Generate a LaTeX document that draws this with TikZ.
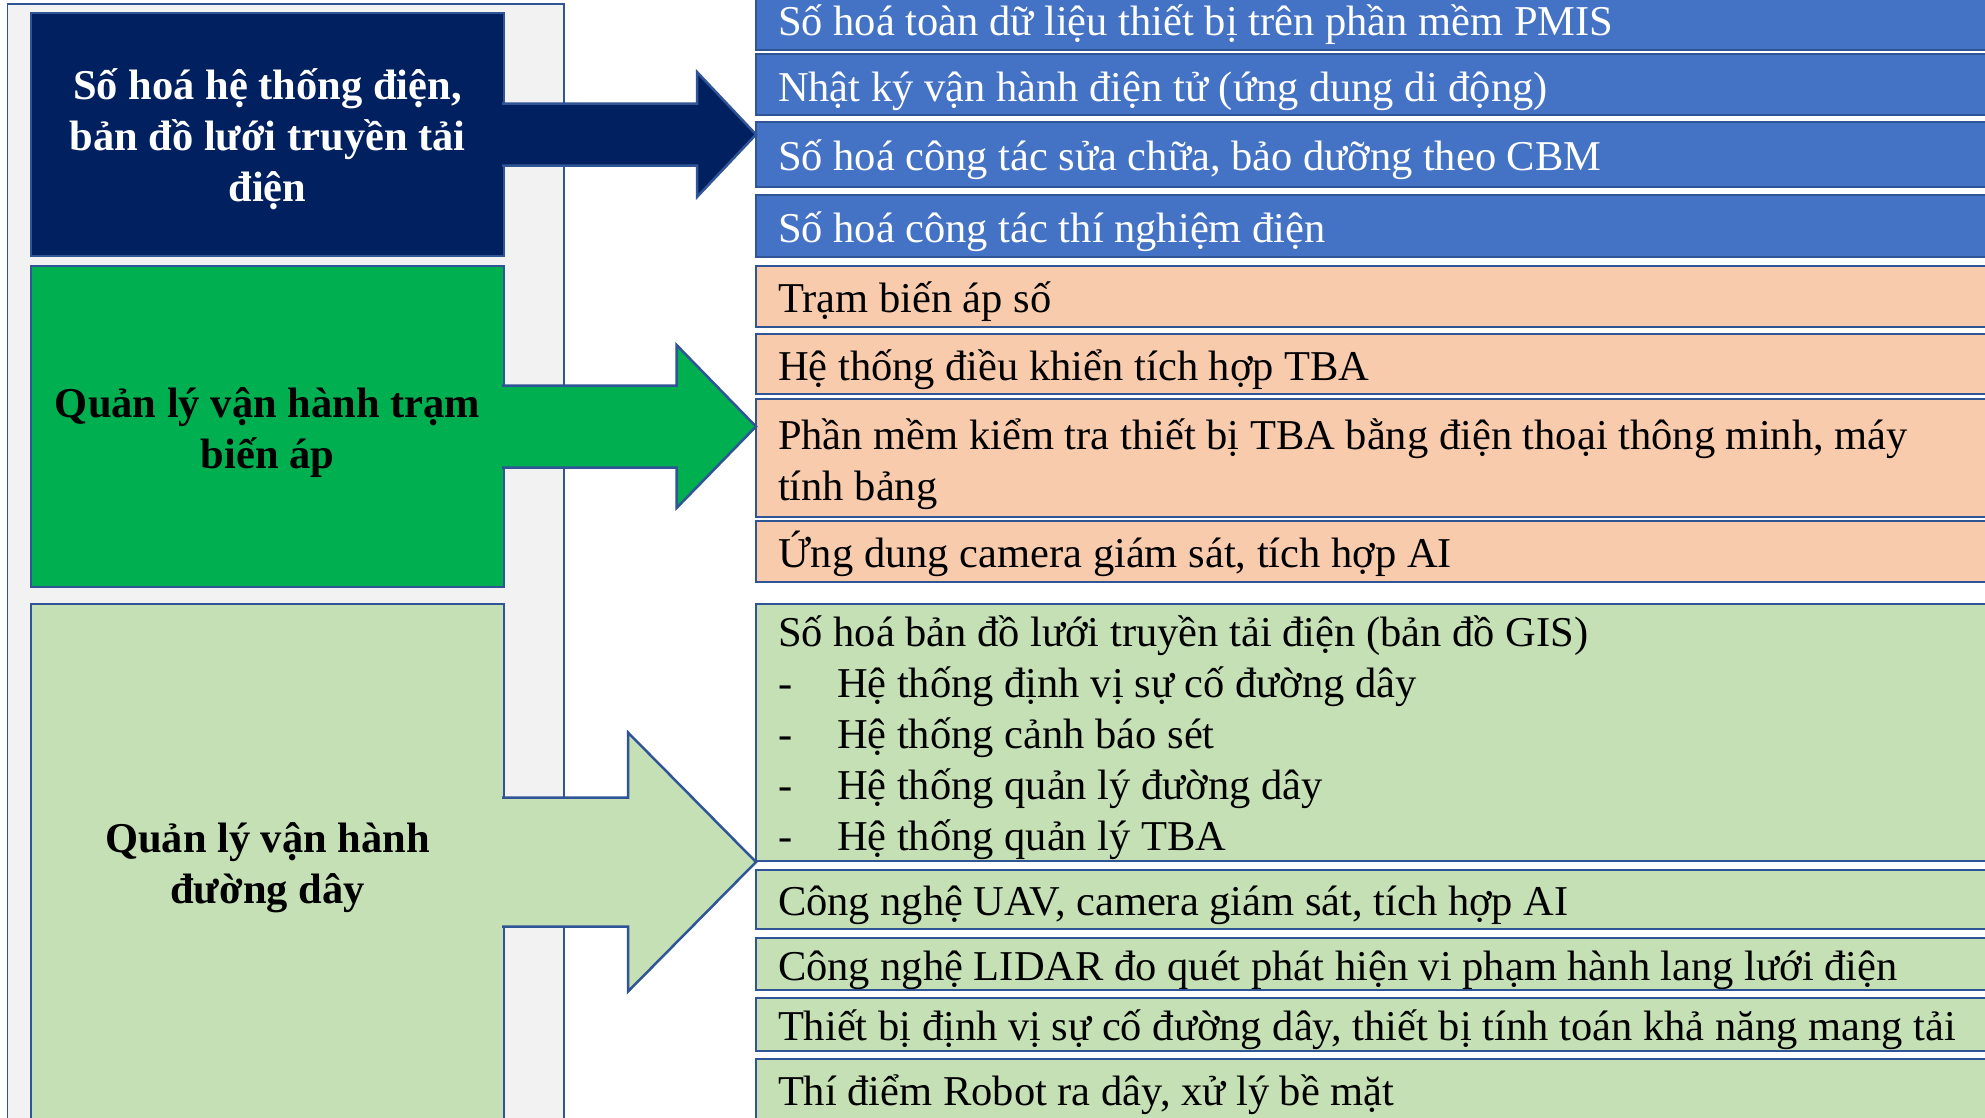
\documentclass[tikz,border=0pt]{standalone}
\usepackage{fontspec}
\setmainfont{Liberation Serif}
\usetikzlibrary{calc}
\definecolor{navy}{HTML}{002060}
\definecolor{dgreen}{HTML}{00B050}
\definecolor{lgreen}{HTML}{C5E0B4}
\definecolor{bluebox}{HTML}{4472C4}
\definecolor{peach}{HTML}{F8CBAD}
\definecolor{bord}{HTML}{2F5597}
\definecolor{panel}{HTML}{F2F2F2}
\begin{document}
\begin{tikzpicture}[x=1pt,y=-1pt,
  bx/.style={draw=bord, line width=2.5pt, inner sep=0pt, outer sep=0pt, anchor=north west, rectangle},
  rbx/.style={bx, minimum width=1260pt},
  lt/.style={font=\fontsize{42.5}{51}\selectfont, inner sep=0pt, outer sep=0pt, anchor=base west, yshift=-2.5pt},
  ltw/.style={lt, text=white},
  ct/.style={font=\fontsize{42.5}{51}\selectfont\bfseries, inner sep=0pt, outer sep=0pt, anchor=base, yshift=-1.5pt},
  arr/.style={draw=bord, line width=2.5pt, line join=miter}
]
\useasboundingbox (0,0) rectangle (1985,1117);
\clip (0,0) rectangle (1985,1117);
\fill[white] (0,0) rectangle (1985,1117);

% grey panel
\node[bx, line width=1.5pt, fill=panel, minimum width=556.5pt, minimum height=1140pt] (panel) at (7.5,4) {};

% left boxes
\node[bx, fill=navy, minimum width=473pt, minimum height=243pt] (nav) at (31,13) {};
\node[bx, fill=dgreen, minimum width=473pt, minimum height=321pt] (grn) at (31,266) {};
\node[bx, fill=lgreen, minimum width=473pt, minimum height=516pt] (lgr) at (31,604) {};

% right boxes
\node[rbx, fill=bluebox, minimum height=61pt] (r1) at (756,-11) {};
\node[rbx, fill=bluebox, minimum height=61pt] (r2) at (756,54) {};
\node[rbx, fill=bluebox, minimum height=65pt] (r3) at (756,122) {};
\node[rbx, fill=bluebox, minimum height=62pt] (r4) at (756,195) {};
\node[rbx, fill=peach, minimum height=61pt] (p1) at (756,266) {};
\node[rbx, fill=peach, minimum height=60pt] (p2) at (756,334) {};
\node[rbx, fill=peach, minimum height=118pt] (p3) at (756,399) {};
\node[rbx, fill=peach, minimum height=61pt] (p4) at (756,521) {};
\node[rbx, fill=lgreen, minimum height=257pt] (g1) at (756,604) {};
\node[rbx, fill=lgreen, minimum height=59pt] (g2) at (756,870) {};
\node[rbx, fill=lgreen, minimum height=52pt] (g3) at (756,938) {};
\node[rbx, fill=lgreen, minimum height=53pt] (g4) at (756,998) {};
\node[rbx, fill=lgreen, minimum height=61pt] (g5) at (756,1059) {};

% block arrows
\filldraw[arr, fill=navy] ($(nav.east)+(-2,-31)$) -- ++(195,0) -- ++(0,-31.5)
  -- (r1.west |- nav.east) -- ($(nav.east)+(193,62.5)$) -- ++(0,-31.5) -- ++(-195,0);
\filldraw[arr, fill=dgreen] ($(grn.east)+(-2,-41)$) -- ++(174.6,0) -- ++(0,-40.5)
  -- (r1.west |- grn.east) -- ($(grn.east)+(172.6,81.5)$) -- ++(0,-40.5) -- ++(-174.6,0);
\filldraw[arr, fill=lgreen] ($(lgr.east)+(-2,-64.5)$) -- ++(126,0) -- ++(0,-65)
  -- (r1.west |- lgr.east) -- ($(lgr.east)+(124,129.5)$) -- ++(0,-65) -- ++(-126,0);

% left texts
\node[ct, text=white] (nt1) at ($(nav.center)+(0,-36.5)$) {Số hoá hệ thống điện,};
\node[ct, text=white] (nt2) at ($(nav.center)+(0,14.5)$) {bản đồ lưới truyền tải};
\node[ct, text=white] (nt3) at ($(nav.center)+(0,65.5)$) {điện};
\node[ct] (gt1) at ($(grn.center)+(0,-10.5)$) {Quản lý vận hành trạm};
\node[ct] (gt2) at ($(grn.center)+(0,40.5)$) {biến áp};
\node[ct] (lt1) at ($(lgr.center)+(0,-11.5)$) {Quản lý vận hành};
\node[ct] (lt2) at ($(lgr.center)+(0,40)$) {đường dây};

% right texts
\node[ltw] (tr1) at ($(r1.west)+(22,13.5)$) {Số hoá toàn dữ liệu thiết bị trên phần mềm PMIS};
\node[ltw] (tr2) at ($(r2.west)+(22,14.5)$) {Nhật ký vận hành điện tử (ứng dung di động)};
\node[ltw] (tr3) at ($(r3.west)+(22,13.5)$) {Số hoá công tác sửa chữa, bảo dưỡng theo CBM};
\node[ltw] (tr4) at ($(r4.west)+(22,13.5)$) {Số hoá công tác thí nghiệm điện};
\node[lt] (tp1) at ($(p1.west)+(22,13.5)$) {Trạm biến áp số};
\node[lt] (tp2) at ($(p2.west)+(22,13.5)$) {Hệ thống điều khiển tích hợp TBA};
\node[lt] (tp3a) at ($(p3.west)+(22,-11.5)$) {Phần mềm kiểm tra thiết bị TBA bằng điện thoại thông minh, máy};
\node[lt] (tp3b) at ($(p3.west)+(22,39.5)$) {tính bảng};
\node[lt] (tp4) at ($(p4.west)+(22,13.5)$) {Ứng dung camera giám sát, tích hợp AI};
\node[lt] (tg1a) at ($(g1.west)+(22,-88.5)$) {Số hoá bản đồ lưới truyền tải điện (bản đồ GIS)};
\node[lt] (tg1b) at ($(g1.west)+(22,-37.5)$) {\makebox[59pt][l]{-}Hệ thống định vị sự cố đường dây};
\node[lt] (tg1c) at ($(g1.west)+(22,13.5)$) {\makebox[59pt][l]{-}Hệ thống cảnh báo sét};
\node[lt] (tg1d) at ($(g1.west)+(22,64.5)$) {\makebox[59pt][l]{-}Hệ thống quản lý đường dây};
\node[lt] (tg1e) at ($(g1.west)+(22,115.5)$) {\makebox[59pt][l]{-}Hệ thống quản lý TBA};
\node[lt] (tg2) at ($(g2.west)+(22,13.5)$) {Công nghệ UAV, camera giám sát, tích hợp AI};
\node[lt] (tg3) at ($(g3.west)+(22,13.5)$) {Công nghệ LIDAR đo quét phát hiện vi phạm hành lang lưới điện};
\node[lt] (tg4) at ($(g4.west)+(22,13.5)$) {Thiết bị định vị sự cố đường dây, thiết bị tính toán khả năng mang tải};
\node[lt] (tg5) at ($(g5.west)+(22,13.5)$) {Thí điểm Robot ra dây, xử lý bề mặt};
\end{tikzpicture}
\end{document}
